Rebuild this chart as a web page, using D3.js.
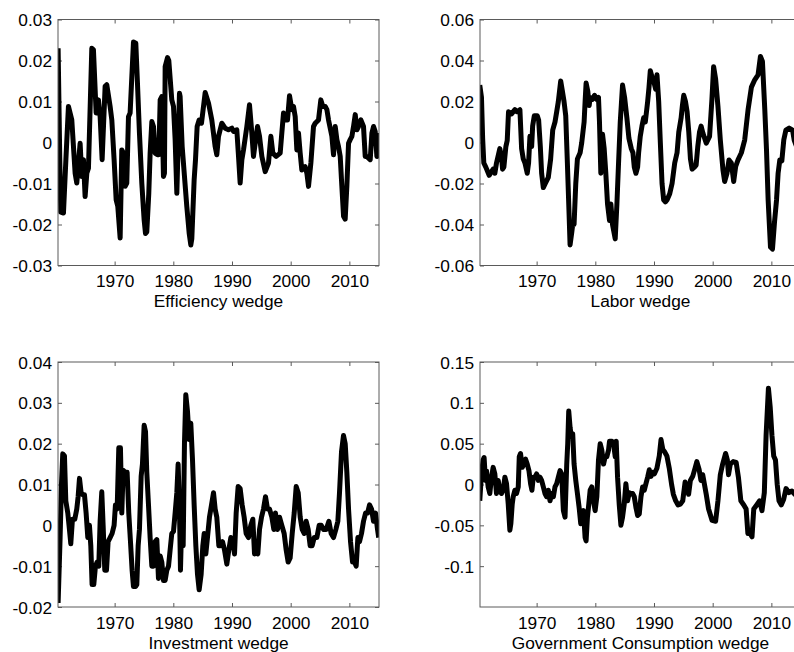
<!DOCTYPE html>
<html>
<head>
<meta charset="utf-8">
<script src="https://cdn.jsdelivr.net/npm/d3@7"></script>
<style>
  html, body { margin: 0; padding: 0; background: #fff; }
  svg { display: block; }
  text { font-family: "Liberation Sans", Arial, Helvetica, sans-serif; fill: #000; }
</style>
</head>
<body>
<svg id="chart" width="794" height="652"></svg>
<script>
// ---------------- DATA ----------------
const xTickYears = [1970, 1980, 1990, 2000, 2010];
const xDomain = [1960.35, 2015.05];

const titles = ["Efficiency wedge", "Labor wedge", "Investment wedge", "Government Consumption wedge"];

const effTicks = [-0.03, -0.02, -0.01, 0, 0.01, 0.02, 0.03];
const laborTicks = [-0.06, -0.04, -0.02, 0, 0.02, 0.04, 0.06];
const invTicks = [-0.02, -0.01, 0, 0.01, 0.02, 0.03, 0.04];
const govTicks = [-0.1, -0.05, 0, 0.05, 0.1, 0.15];

const effYears = [1960.37,1960.55,1960.65,1960.82,1961.28,1961.7,1962.13,1962.70,1963.27,1963.55,1964.12,1964.40,1964.69,1964.97,1965.26,1965.54,1966.11,1966.39,1966.85,1967.24,1967.53,1967.87,1968.38,1968.66,1969.23,1969.52,1969.91,1970.26,1970.54,1970.94,1971.22,1971.51,1971.79,1972.07,1972.36,1972.64,1973.21,1973.61,1973.89,1974.23,1974.63,1975.03,1975.26,1975.48,1975.82,1976.05,1976.34,1976.62,1976.90,1977.30,1977.53,1977.76,1978.04,1978.32,1978.49,1978.61,1979.01,1979.23,1979.74,1980.03,1980.31,1980.60,1981.05,1981.16,1981.51,1982.30,1982.70,1982.98,1983.15,1983.55,1983.78,1984.06,1984.40,1984.80,1985.43,1986.0,1986.56,1987.13,1987.41,1987.70,1988.27,1988.83,1989.40,1989.97,1990.26,1990.82,1991.11,1991.39,1991.68,1991.96,1992.53,1992.98,1993.38,1993.66,1993.95,1994.35,1994.69,1995.09,1995.66,1996.22,1996.62,1996.96,1997.53,1998.21,1998.49,1998.78,1999.06,1999.46,1999.80,2000.20,2000.48,2000.77,2001.05,2001.33,2001.62,2001.90,2002.47,2002.76,2003.04,2003.44,2003.89,2004.18,2004.74,2005.14,2005.48,2005.88,2006.17,2006.45,2007.02,2007.30,2007.59,2007.87,2008.15,2008.44,2008.72,2009.01,2009.29,2009.57,2009.86,2010.14,2010.43,2010.71,2011.0,2011.28,2011.56,2011.96,2012.41,2012.70,2012.98,2013.27,2013.55,2013.84,2014.12,2014.40,2014.69,2014.97];
const effValues = [0.023,0.006,-0.004,-0.017,-0.0172,-0.004,0.0088,0.0055,-0.0075,-0.0099,-0.0002,-0.0083,-0.0042,-0.0132,-0.0075,-0.0063,0.023,0.0226,0.0072,0.0104,0.0063,-0.0042,0.0137,0.0141,0.0088,0.0055,-0.0042,-0.014,-0.0156,-0.0233,-0.0018,-0.0026,-0.0107,-0.0099,0.0063,0.0072,0.0245,0.0242,0.0145,0.0023,-0.0099,-0.0189,-0.0222,-0.0218,-0.0124,-0.0026,0.0051,0.0039,-0.0026,-0.003,-0.003,0.0104,0.0112,-0.0083,-0.0075,0.0185,0.0207,0.02,0.0104,0.0088,0.0007,-0.0124,0.012,0.0112,-0.001,-0.0156,-0.0221,-0.025,-0.0235,-0.0091,-0.0042,0.0039,0.0055,0.0047,0.0122,0.0096,0.0055,-0.001,-0.003,0.0015,0.0047,0.0035,0.0031,0.0035,0.0027,0.0031,-0.0034,-0.0099,-0.0042,-0.0018,0.0039,0.0092,0.0023,-0.0034,-0.0002,0.0039,0.0015,-0.0034,-0.0071,-0.005,0.0015,-0.0026,-0.0034,-0.0026,0.0023,0.0072,0.0055,0.0055,0.0114,0.008,0.0088,0.0063,-0.0018,0.0023,-0.0026,-0.0067,-0.0059,-0.0075,-0.0107,-0.005,0.0039,0.0047,0.0055,0.0104,0.0088,0.0088,0.008,0.0055,0.0015,-0.003,0.0039,0.0007,-0.001,-0.0034,-0.0107,-0.018,-0.0187,-0.0107,-0.0002,0.0007,0.0015,0.0039,0.0068,0.0031,0.0039,0.0055,0.0039,-0.0034,-0.0034,-0.0038,-0.0042,0.0023,0.0039,0.0027,-0.0034,0.0023];

const laborYears = [1960.31,1960.6,1960.8,1961.0,1961.34,1961.91,1962.59,1962.88,1963.16,1963.73,1964.02,1964.19,1964.42,1964.76,1964.99,1965.21,1965.73,1966.30,1966.70,1967.15,1967.44,1967.72,1968.01,1968.40,1968.63,1968.86,1969.15,1969.32,1969.60,1970.11,1970.34,1970.63,1970.85,1971.14,1971.48,1971.99,1972.39,1972.74,1973.13,1973.42,1973.70,1974.10,1974.39,1974.67,1974.96,1975.24,1975.53,1975.70,1975.98,1976.15,1976.38,1976.67,1976.95,1977.41,1977.69,1978.09,1978.26,1978.43,1978.72,1978.95,1979.12,1979.52,1979.86,1980.26,1980.54,1980.71,1980.94,1981.23,1981.51,1981.79,1982.08,1982.42,1982.65,1982.93,1983.39,1983.68,1983.96,1984.25,1984.64,1984.99,1985.38,1985.73,1986.13,1986.41,1986.64,1986.92,1987.21,1987.38,1987.66,1987.95,1988.23,1988.52,1988.92,1989.15,1989.37,1989.66,1989.94,1990.28,1990.51,1990.80,1991.08,1991.37,1991.65,1991.94,1992.22,1992.68,1993.08,1993.53,1993.93,1994.22,1994.62,1994.84,1995.07,1995.36,1995.64,1995.93,1996.21,1996.50,1996.89,1997.18,1997.46,1997.75,1998.03,1998.33,1998.91,1999.47,1999.87,2000.16,2000.50,2000.90,2001.30,2001.75,2002.04,2002.44,2002.78,2003.18,2003.58,2003.92,2004.32,2004.89,2005.46,2006.03,2006.60,2007.17,2007.73,2008.14,2008.48,2008.88,2009.17,2009.45,2009.85,2010.19,2010.53,2010.88,2011.15,2011.44,2011.78,2012.12,2012.47,2013.03,2013.61,2013.9,2014.3];
const laborValues = [0.028,0.022,0.002,-0.01,-0.012,-0.016,-0.013,-0.015,-0.01,-0.003,-0.007,-0.013,-0.012,-0.002,0.001,0.015,0.014,0.016,0.015,0.016,-0.003,-0.008,-0.01,-0.015,-0.01,0.003,-0.002,0.008,0.013,0.013,0.011,-0.002,-0.015,-0.022,-0.02,-0.017,-0.008,0.006,0.01,0.015,0.02,0.03,0.025,0.02,0.013,-0.01,-0.035,-0.05,-0.044,-0.04,-0.04,-0.02,-0.008,-0.005,0.0,0.01,0.02,0.029,0.025,0.018,0.022,0.021,0.023,0.021,0.022,0.01,-0.015,0.004,-0.003,-0.015,-0.03,-0.038,-0.03,-0.04,-0.047,-0.03,-0.01,0.01,0.028,0.022,0.012,0.002,-0.003,-0.005,-0.012,-0.015,-0.012,-0.005,0.003,0.008,0.012,0.01,0.02,0.027,0.035,0.032,0.03,0.026,0.033,0.02,0.0,-0.02,-0.028,-0.029,-0.028,-0.025,-0.02,-0.01,-0.005,0.005,0.012,0.018,0.023,0.02,0.015,0.005,-0.008,-0.013,-0.012,-0.011,-0.002,0.005,0.008,0.0046,-0.0003,0.003,0.021,0.037,0.031,0.0176,0.0013,-0.0133,-0.019,-0.015,-0.0085,-0.01,-0.019,-0.0117,-0.0085,-0.005,0.0013,0.016,0.027,0.0306,0.033,0.042,0.0395,0.016,-0.0036,-0.028,-0.051,-0.052,-0.039,-0.028,-0.015,-0.0085,-0.009,0.0013,0.006,0.007,0.006,0.001,-0.002];

const invYears = [1960.37,1960.71,1960.94,1961.16,1961.45,1961.68,1962.02,1962.30,1962.53,1962.81,1963.21,1963.55,1963.78,1964.01,1964.29,1964.57,1964.86,1965.14,1965.43,1965.71,1965.94,1966.16,1966.45,1966.73,1967.02,1967.30,1967.53,1967.81,1968.04,1968.32,1968.61,1968.89,1969.23,1969.57,1969.91,1970.14,1970.43,1970.71,1970.99,1971.22,1971.45,1971.79,1972.13,1972.41,1972.70,1972.98,1973.21,1973.55,1973.78,1974.01,1974.23,1974.52,1974.74,1975.03,1975.26,1975.48,1975.77,1976.05,1976.34,1976.62,1976.90,1977.19,1977.47,1977.76,1978.04,1978.32,1978.61,1978.89,1979.18,1979.46,1979.74,1980.03,1980.31,1980.60,1980.82,1981.05,1981.22,1981.45,1981.68,1981.90,1982.13,1982.41,1982.70,1982.98,1983.27,1983.55,1983.84,1984.12,1984.40,1984.74,1985.03,1985.26,1985.54,1985.82,1986.16,1986.51,1986.85,1987.13,1987.41,1987.76,1988.04,1988.38,1988.72,1989.12,1989.46,1989.80,1990.14,1990.43,1990.71,1991.05,1991.39,1991.73,1992.07,1992.41,1992.81,1993.21,1993.55,1993.84,1994.12,1994.40,1994.69,1995.03,1995.37,1995.71,1996.05,1996.39,1996.79,1997.13,1997.41,1997.76,1998.10,1998.49,1998.89,1999.23,1999.57,1999.91,2000.26,2000.60,2000.94,2001.28,2001.62,2001.96,2002.30,2002.64,2002.98,2003.32,2003.66,2004.01,2004.46,2004.86,2005.20,2005.60,2006.05,2006.51,2006.90,2007.30,2007.70,2008.04,2008.32,2008.66,2009.00,2009.29,2009.57,2009.86,2010.20,2010.54,2010.88,2011.16,2011.45,2011.73,2012.07,2012.41,2012.76,2013.10,2013.44,2013.78,2014.12,2014.46,2014.80,2015.0];
const invValues = [-0.019,-0.003,0.01,0.0175,0.017,0.006,0.003,-0.001,-0.0045,0.0015,0.0015,0.004,0.007,0.0115,0.008,0.0075,0.0075,0.003,-0.003,0.0,-0.005,-0.0145,-0.0145,-0.01,-0.009,-0.01,0.001,0.0082,0.0,-0.011,-0.011,-0.004,-0.003,-0.002,0.0,0.005,0.004,0.019,0.019,0.003,0.0135,0.013,0.013,0.003,-0.004,-0.011,-0.015,-0.015,-0.0145,-0.005,-0.001,0.012,0.015,0.0245,0.023,0.013,0.005,-0.003,-0.01,-0.01,-0.004,-0.0035,-0.013,-0.0075,-0.009,-0.0135,-0.0135,-0.011,-0.01,-0.006,-0.002,-0.0015,0.003,0.008,0.015,0.004,-0.011,0.002,-0.005,0.02,0.032,0.028,0.021,0.025,0.016,0.005,-0.005,-0.012,-0.0158,-0.012,-0.005,-0.002,-0.007,-0.003,0.002,0.005,0.008,0.004,0.002,-0.005,-0.005,-0.004,-0.006,-0.0095,-0.006,-0.003,-0.004,-0.007,0.003,0.0095,0.009,0.005,0.002,-0.002,-0.003,0.0,0.0015,-0.007,-0.006,-0.007,-0.001,0.002,0.004,0.007,0.004,0.004,0.002,-0.001,0.003,-0.001,0.002,0.0,-0.002,-0.006,-0.009,-0.008,-0.002,0.003,0.0095,0.008,0.002,-0.001,-0.002,0.001,-0.001,-0.005,-0.005,-0.003,-0.003,0.0,0.0,-0.001,-0.001,0.001,-0.002,-0.003,-0.001,0.001,0.008,0.018,0.022,0.02,0.013,0.004,-0.004,-0.009,-0.009,-0.01,-0.003,-0.004,-0.002,0.001,0.003,0.003,0.005,0.004,0.001,0.003,-0.001,-0.003];

const govYears = [1960.31,1960.60,1960.88,1961.05,1961.28,1961.45,1961.74,1962.02,1962.31,1962.59,1962.88,1963.16,1963.45,1963.73,1964.02,1964.30,1964.59,1964.87,1965.16,1965.44,1965.61,1965.84,1966.01,1966.30,1966.58,1966.87,1967.04,1967.26,1967.55,1967.83,1968.12,1968.40,1968.69,1968.97,1969.20,1969.43,1969.72,1970.00,1970.28,1970.57,1970.85,1971.14,1971.42,1971.71,1971.99,1972.28,1972.56,1972.85,1973.13,1973.42,1973.70,1973.99,1974.27,1974.56,1974.84,1975.13,1975.30,1975.47,1975.70,1975.93,1976.15,1976.38,1976.67,1976.95,1977.24,1977.52,1977.75,1977.98,1978.26,1978.43,1978.66,1978.89,1979.12,1979.40,1979.69,1979.97,1980.26,1980.54,1980.83,1981.11,1981.40,1981.68,1981.97,1982.25,1982.42,1982.82,1983.11,1983.39,1983.56,1983.79,1984.07,1984.36,1984.64,1984.93,1985.21,1985.50,1985.78,1986.07,1986.35,1986.64,1986.92,1987.21,1987.49,1987.78,1988.06,1988.35,1988.63,1988.92,1989.20,1989.49,1989.77,1990.06,1990.5,1990.9,1991.2,1991.5,1991.8,1992.2,1992.6,1993.0,1993.3,1993.7,1994.1,1994.5,1994.9,1995.3,1995.6,1995.9,1996.2,1996.6,1997.0,1997.3,1997.7,1998.0,1998.3,1998.6,1998.9,1999.3,1999.9,2000.5,2000.9,2001.3,2001.7,2002.2,2002.5,2002.7,2003.0,2003.5,2004.0,2004.4,2004.8,2005.3,2005.7,2006.0,2006.4,2006.7,2007.0,2007.5,2008.0,2008.4,2008.8,2009.1,2009.5,2009.8,2010.1,2010.4,2010.7,2011.0,2011.3,2011.7,2012.1,2012.5,2013.0,2013.5,2014.0,2014.5];
const govValues = [-0.02,0.013,0.03,0.033,0.005,0.017,-0.003,-0.011,0.009,0.021,0.013,-0.011,0.005,-0.007,-0.011,-0.007,0.009,0.001,-0.024,-0.056,-0.048,-0.024,-0.015,-0.007,-0.011,-0.003,0.034,0.038,0.021,0.025,0.031,0.025,0.017,0.001,-0.007,0.009,0.009,0.013,0.005,0.009,0.005,-0.003,-0.011,-0.015,-0.007,-0.02,-0.011,-0.015,-0.003,0.001,0.009,0.017,0.013,-0.032,-0.04,0.025,0.05,0.09,0.07,0.058,0.062,0.025,0.005,-0.011,-0.028,-0.048,-0.04,-0.032,-0.065,-0.069,-0.04,-0.024,-0.007,-0.003,-0.02,-0.032,-0.015,0.03,0.05,0.042,0.025,0.034,0.034,0.042,0.053,0.053,0.05,0.034,0.053,0.009,-0.024,-0.05,-0.04,-0.024,0.001,-0.02,-0.01,-0.011,-0.011,-0.015,-0.028,-0.038,-0.036,-0.015,-0.003,-0.007,0.001,0.009,0.018,0.01,0.015,0.013,0.02,0.035,0.055,0.043,0.04,0.035,0.02,0.0,-0.012,-0.02,-0.025,-0.024,-0.02,0.003,-0.003,-0.012,0.005,0.01,0.02,0.028,0.018,0.005,0.012,0.0,-0.012,-0.03,-0.044,-0.045,-0.02,0.012,0.025,0.038,0.03,0.012,0.025,0.028,0.027,0.008,-0.02,-0.025,-0.03,-0.06,-0.06,-0.064,-0.03,-0.025,-0.02,-0.032,-0.01,0.06,0.118,0.095,0.06,0.035,0.03,0.0,-0.02,-0.025,-0.018,-0.005,-0.01,-0.008,-0.012,-0.01];

// ---------------- LAYOUT ----------------
const panelW = 321;
const layout = [
  { left: 58,  top: 19.5, bottom: 265.5 },
  { left: 480, top: 19.5, bottom: 265.5 },
  { left: 58,  top: 362,  bottom: 607 },
  { left: 480, top: 362,  bottom: 607 }
];

const panels = [
  { title: titles[0], years: effYears,   values: effValues,   ticks: effTicks,   domain: [-0.03, 0.03] },
  { title: titles[1], years: laborYears, values: laborValues, ticks: laborTicks, domain: [-0.06, 0.06] },
  { title: titles[2], years: invYears,   values: invValues,   ticks: invTicks,   domain: [-0.02, 0.04] },
  { title: titles[3], years: govYears,   values: govValues,   ticks: govTicks,   domain: [-0.15, 0.15] }
];

const fmt = v => (Math.abs(v) < 1e-12 ? "0" : String(+v.toFixed(4)));

const svg = d3.select("#chart");
const FONT = 17.3;
const frameColor = "#5a5a5a";

panels.forEach((p, i) => {
  const L = layout[i];
  const h = L.bottom - L.top;
  const g = svg.append("g").attr("transform", `translate(${L.left},${L.top})`);

  const x = d3.scaleLinear().domain(xDomain).range([0, panelW]);
  const y = d3.scaleLinear().domain(p.domain).range([h, 0]);

  const cid = "clip" + i;
  g.append("clipPath").attr("id", cid)
    .append("rect").attr("x", 0).attr("y", 0).attr("width", panelW).attr("height", h);

  const xb = g.append("g").attr("transform", `translate(0,${h})`)
    .call(d3.axisBottom(x).tickValues(xTickYears).tickFormat(d3.format("d")).tickSizeInner(-4).tickSizeOuter(0).tickPadding(9.5));
  const xt = g.append("g")
    .call(d3.axisTop(x).tickValues(xTickYears).tickFormat("").tickSizeInner(-4).tickSizeOuter(0));
  const yl = g.append("g")
    .call(d3.axisLeft(y).tickValues(p.ticks).tickFormat(fmt).tickSizeInner(-4).tickSizeOuter(0).tickPadding(6));
  const yr = g.append("g").attr("transform", `translate(${panelW},0)`)
    .call(d3.axisRight(y).tickValues(p.ticks).tickFormat("").tickSizeInner(-4).tickSizeOuter(0));

  [xb, xt, yl, yr].forEach(a => {
    a.select(".domain").remove();
    a.selectAll(".tick line").attr("stroke", frameColor).attr("stroke-width", 1);
    a.selectAll(".tick text").attr("font-size", FONT).attr("fill", "#000")
      .style("font-family", "'Liberation Sans', Arial, sans-serif");
  });
  yl.selectAll(".tick text").attr("dy", "0.35em");

  const pts = p.years.map((yy, k) => [yy, p.values[k]]);
  g.append("path")
    .attr("clip-path", `url(#${cid})`)
    .attr("d", d3.line().x(d => x(d[0])).y(d => y(d[1]))(pts))
    .attr("fill", "none")
    .attr("stroke", "#000")
    .attr("stroke-width", 5)
    .attr("stroke-linejoin", "round")
    .attr("stroke-linecap", "butt");

  g.append("rect")
    .attr("x", 0).attr("y", 0).attr("width", panelW).attr("height", h)
    .attr("fill", "none").attr("stroke", frameColor).attr("stroke-width", 1);

  g.append("text")
    .attr("x", panelW / 2)
    .attr("y", h + 41.5)
    .attr("text-anchor", "middle")
    .attr("font-size", FONT)
    .text(p.title);
});
</script>
</body>
</html>
